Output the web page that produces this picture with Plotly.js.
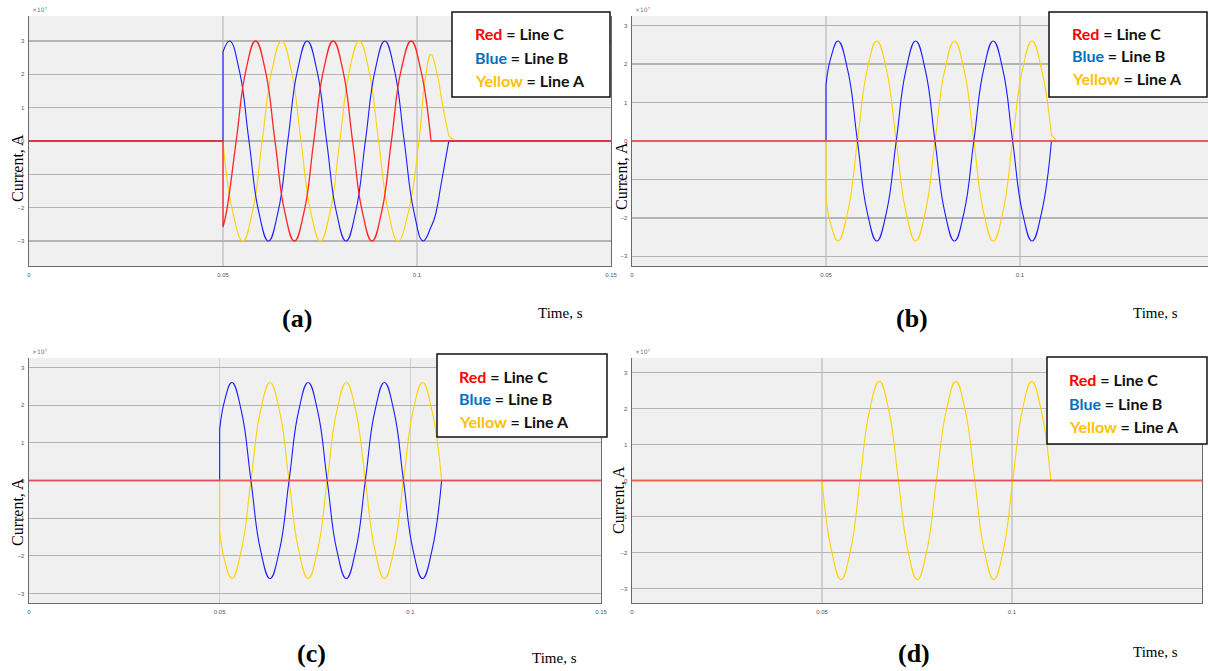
<!DOCTYPE html>
<html>
<head>
<meta charset="utf-8">
<script src="https://cdn.plot.ly/plotly-3.0.1.min.js"></script>
<style>html,body{margin:0;padding:0;background:#fff;}#chart{width:1208px;height:671px;}</style>
</head>
<body>
<div id="chart"></div>
<script>
// ---------- DATA (time in s, current in units of 1e7 A) ----------
// Panel (a)
var tA_blue = [0,0.05,0.05,0.05,0.05,0.0517,0.0542,0.0567,0.0592,0.0617,0.0642,0.0667,0.0692,0.0717,0.0742,0.0767,0.0792,0.0817,0.0842,0.0867,0.0892,0.0917,0.0942,0.0967,0.0992,0.1016,0.1036,0.1046,0.1064,0.1082,0.1082,0.15];
var iA_blue = [0,0,0,2.67,2.67,3,2.12,0,-2.12,-3,-2.12,0,2.12,3,2.12,0,-2.12,-3,-2.12,0,2.12,3,2.12,0,-2.12,-3,-2.58,-2.28,-1.17,0,0,0];
var tA_yellow = [0,0.05,0.05,0.0525,0.0551,0.0576,0.0601,0.0626,0.0651,0.0676,0.0701,0.0726,0.0751,0.0776,0.0801,0.0826,0.0851,0.0876,0.0901,0.0926,0.0951,0.0978,0.1005,0.1021,0.1036,0.1052,0.1067,0.1082,0.1082,0.1098,0.1098,0.15];
var iA_yellow = [0,0,0,-2.12,-3,-2.12,0,2.12,3,2.12,0,-2.12,-3,-2.12,0,2.12,3,2.12,0,-2.12,-3,-2.12,0,1.85,2.6,2.0,1.0,0.15,0.15,0,0,0];
var tA_red = [0,0.05,0.05,0.05,0.05,0.0509,0.0534,0.0559,0.0584,0.0609,0.0634,0.0659,0.0684,0.0709,0.0734,0.0759,0.0784,0.0809,0.0834,0.0859,0.0884,0.0909,0.0934,0.0959,0.0985,0.1010,0.1036,0.1036,0.15];
var iA_red = [0,0,0,-2.58,-2.58,-2.12,0,2.12,3,2.12,0,-2.12,-3,-2.12,0,2.12,3,2.12,0,-2.12,-3,-2.12,0,2.12,3,2.12,0,0,0];

// Panel (b)
var tB_blue = [0,0.05,0.05,0.05,0.05,0.0512,0.0531,0.0556,0.0581,0.0606,0.0631,0.0656,0.0681,0.0706,0.0731,0.0756,0.0781,0.0806,0.0831,0.0856,0.0881,0.0906,0.0931,0.0956,0.0981,0.1006,0.1031,0.1056,0.1081,0.1081,0.15];
var iB_blue = [0,0,0,1.45,1.45,2.15,2.6,1.84,0,-1.84,-2.6,-1.84,0,1.84,2.6,1.84,0,-1.84,-2.6,-1.84,0,1.84,2.6,1.84,0,-1.84,-2.6,-1.84,0,0,0];
var tB_yellow = [0,0.05,0.05,0.05,0.05,0.0512,0.0531,0.0556,0.0581,0.0606,0.0631,0.0656,0.0681,0.0706,0.0731,0.0756,0.0781,0.0806,0.0831,0.0856,0.0881,0.0906,0.0931,0.0956,0.0981,0.1006,0.1031,0.1056,0.1081,0.1081,0.1095,0.1095,0.15];
var iB_yellow = [0,0,0,-1.45,-1.45,-2.15,-2.6,-1.84,0,1.84,2.6,1.84,0,-1.84,-2.6,-1.84,0,1.84,2.6,1.84,0,-1.84,-2.6,-1.84,0,1.84,2.6,1.84,0.15,0.15,0,0,0];
var tB_red = [0,0.15];
var iB_red = [0,0];

// Panel (c)
var tC_blue = [0,0.05,0.05,0.05,0.05,0.0513,0.0532,0.0557,0.0582,0.0607,0.0632,0.0657,0.0682,0.0707,0.0732,0.0757,0.0782,0.0807,0.0832,0.0857,0.0882,0.0907,0.0932,0.0957,0.0982,0.1007,0.1032,0.1057,0.1082,0.1082,0.15];
var iC_blue = [0,0,0,1.35,1.35,2.12,2.6,1.84,0,-1.84,-2.6,-1.84,0,1.84,2.6,1.84,0,-1.84,-2.6,-1.84,0,1.84,2.6,1.84,0,-1.84,-2.6,-1.84,0,0,0];
var tC_yellow = [0,0.05,0.05,0.05,0.05,0.0513,0.0532,0.0557,0.0582,0.0607,0.0632,0.0657,0.0682,0.0707,0.0732,0.0757,0.0782,0.0807,0.0832,0.0857,0.0882,0.0907,0.0932,0.0957,0.0982,0.1007,0.1032,0.1057,0.1082,0.1082,0.15];
var iC_yellow = [0,0,0,-1.35,-1.35,-2.12,-2.6,-1.84,0,1.84,2.6,1.84,0,-1.84,-2.6,-1.84,0,1.84,2.6,1.84,0,-1.84,-2.6,-1.84,0,1.84,2.6,1.84,0,0,0];
var tC_red = [0,0.15];
var iC_red = [0,0];

// Panel (d)
var tD_yellow = [0,0.05,0.05,0.0525,0.055,0.0575,0.06,0.0625,0.0651,0.0676,0.0701,0.0726,0.0751,0.0776,0.0801,0.0827,0.0852,0.0877,0.0902,0.0927,0.0952,0.0977,0.1002,0.1027,0.1052,0.1077,0.1102,0.1102,0.15];
var iD_yellow = [0,0,0,-1.94,-2.75,-1.94,0,1.94,2.75,1.94,0,-1.94,-2.75,-1.94,0,1.94,2.75,1.94,0,-1.94,-2.75,-1.94,0,1.94,2.75,1.94,0,0,0];
var tD_blue = [0,0.15];
var iD_blue = [0,0];
var tD_red = [0,0.15];
var iD_red = [0,0];

// Labels
var panelLabels = ['(a)','(b)','(c)','(d)'];
var legendLines = [['Red','Line C'],['Blue','Line B'],['Yellow','Line A']];
var xTitle = 'Time, s';
var yTitle = 'Current, A';
var expLabel = '\u00d710\u2077';
var emphasisTimes = [0.05, 0.1];   // darker cursor lines in (a) and (b)

// ---------- LAYOUT ----------
var W = 1208, H = 671;
function fx(p){ return p / W; }
function fy(p){ return 1 - p / H; }

var C_BLUE = '#1a1aff', C_YEL = '#ffd200', C_RED = '#ff2424', C_REDFLAT = 'rgba(240,85,85,0.9)';
var legColors = ['#ff0000','#0070c0','#ffc000'];

// plot boxes in pixels: [left, top, right, bottom], y ranges
var boxes = [
  {l:29,  t:16,  r:611,  b:266, yr:[-3.75,3.75], xr:[0,0.15]},
  {l:632, t:16,  r:1208, b:266, yr:[-3.25,3.25], xr:[0,(1208-632)/3880]},
  {l:29,  t:358, r:601,  b:603, yr:[-3.25,3.25], xr:[0,0.15]},
  {l:632, t:358, r:1202, b:603, yr:[-3.4,3.4],  xr:[0,0.15]}
];

var tickFont = {family:'Liberation Sans, Arial', size:6, color:'#555'};
var layout = {
  width: W, height: H,
  margin: {l:0,r:0,t:0,b:0},
  paper_bgcolor: '#ffffff',
  plot_bgcolor: '#f0f0f0',
  showlegend: false,
  annotations: [],
  shapes: []
};

boxes.forEach(function(b, k){
  var s = k === 0 ? '' : String(k+1);
  layout['xaxis'+s] = {
    domain:[fx(b.l), fx(b.r)], range:b.xr, anchor:'y'+s,
    dtick:0.05, tick0:0, showgrid:true, gridcolor:'#d0d0d0', gridwidth:1.4,
    zeroline:false, showline:true, linecolor:'#6a6a6a', linewidth:1.3,
    ticks:'', tickfont:tickFont, ticklabelstandoff:2, fixedrange:true
  };
  layout['yaxis'+s] = {
    domain:[fy(b.b), fy(b.t)], range:b.yr, anchor:'x'+s,
    dtick:1, showgrid:true, gridcolor:'#b4b4b4', gridwidth:1.2,
    zeroline:false, showline:true, mirror:true, linecolor:'#6a6a6a', linewidth:1.4,
    ticks:'', tickfont:tickFont, ticklabelstandoff:2, fixedrange:true
  };
  layout.annotations.push({xref:'paper', yref:'paper', x:fx(b.l+1), y:fy(b.t-1), xanchor:'left', yanchor:'bottom',
    text:expLabel, showarrow:false, font:{family:'DejaVu Sans', size:6, color:'#777'}});
});

// darker cursor lines
layout.shapes.push({type:'line', xref:'x', yref:'y domain', x0:emphasisTimes[0], x1:emphasisTimes[0], y0:0, y1:1, line:{color:'#9a9a9a', width:1.6}, layer:'below'});
layout.shapes.push({type:'line', xref:'x2', yref:'y2 domain', x0:emphasisTimes[1], x1:emphasisTimes[1], y0:0, y1:1, line:{color:'#8a8a8a', width:1.6}, layer:'below'});

// legend boxes
var legBoxes = [
  {l:452, t:12, r:610, b:97, tx:473, ly:[33,57,80]},
  {l:1049, t:12, r:1207, b:97, tx:1070, ly:[33,56,79]},
  {l:437, t:354, r:607, b:437, tx:457, ly:[376,398,421]},
  {l:1047, t:357, r:1207, b:444, tx:1067, ly:[379,403,426]}
];
legBoxes.forEach(function(lb){
  layout.shapes.push({type:'rect', xref:'paper', yref:'paper', x0:fx(lb.l), x1:fx(lb.r), y0:fy(lb.b), y1:fy(lb.t),
    fillcolor:'#ffffff', line:{color:'#111', width:1.5}, layer:'above'});
  legendLines.forEach(function(ln, i){
    layout.annotations.push({xref:'paper', yref:'paper', x:fx(lb.tx), y:fy(lb.ly[i]), xanchor:'left', yanchor:'middle',
      showarrow:false, align:'left',
      text:'<b><span style="color:'+legColors[i]+'">'+ln[0]+'</span> = '+ln[1]+'</b>',
      font:{family:'Lato, Open Sans, sans-serif', size:16, color:'#111'}});
  });
});

// axis titles and panel labels
var yTitlePos = [[17,168],[621,176],[17,512],[618,500]];
var xTitlePos = [[560,313],[1155,313],[554,658],[1155,652]];
var panelPos = [[297,318],[912,318],[311,653],[914,653]];
for (var k=0;k<4;k++){
  layout.annotations.push({xref:'paper', yref:'paper', x:fx(yTitlePos[k][0]), y:fy(yTitlePos[k][1]), xanchor:'center', yanchor:'middle',
    text:yTitle, textangle:-90, showarrow:false, font:{family:'Liberation Serif, Times New Roman, serif', size:16, color:'#000'}});
  layout.annotations.push({xref:'paper', yref:'paper', x:fx(xTitlePos[k][0]), y:fy(xTitlePos[k][1]), xanchor:'center', yanchor:'middle',
    text:xTitle, showarrow:false, font:{family:'Liberation Serif, Times New Roman, serif', size:15, color:'#000'}});
  layout.annotations.push({xref:'paper', yref:'paper', x:fx(panelPos[k][0]), y:fy(panelPos[k][1]), xanchor:'center', yanchor:'middle',
    text:'<b>'+panelLabels[k]+'</b>', showarrow:false, font:{family:'Liberation Serif, Times New Roman, serif', size:26, color:'#000'}});
}

// ---------- TRACES ----------
function tr(t, v, ax, color, width){
  var s = ax === 1 ? '' : String(ax);
  return {x:t, y:v, xaxis:'x'+s, yaxis:'y'+s, type:'scatter', mode:'lines',
    line:{color:color, width:width, shape:'spline', smoothing:1.3, simplify:false}, hoverinfo:'skip'};
}
var data = [
  tr(tA_yellow, iA_yellow, 1, C_YEL, 1.1),
  tr(tA_blue, iA_blue, 1, C_BLUE, 1.1),
  tr(tA_red, iA_red, 1, C_RED, 1.3),
  tr(tB_yellow, iB_yellow, 2, C_YEL, 1.1),
  tr(tB_blue, iB_blue, 2, C_BLUE, 1.1),
  tr(tB_red, iB_red, 2, C_REDFLAT, 2.2),
  tr(tC_yellow, iC_yellow, 3, C_YEL, 1.1),
  tr(tC_blue, iC_blue, 3, C_BLUE, 1.1),
  tr(tC_red, iC_red, 3, C_REDFLAT, 2.2),
  tr(tD_blue, iD_blue, 4, C_BLUE, 1.1),
  tr(tD_yellow, iD_yellow, 4, C_YEL, 1.1),
  tr(tD_red, iD_red, 4, C_REDFLAT, 2.2)
];

Plotly.newPlot('chart', data, layout, {displayModeBar:false, staticPlot:true});
</script>
</body>
</html>
